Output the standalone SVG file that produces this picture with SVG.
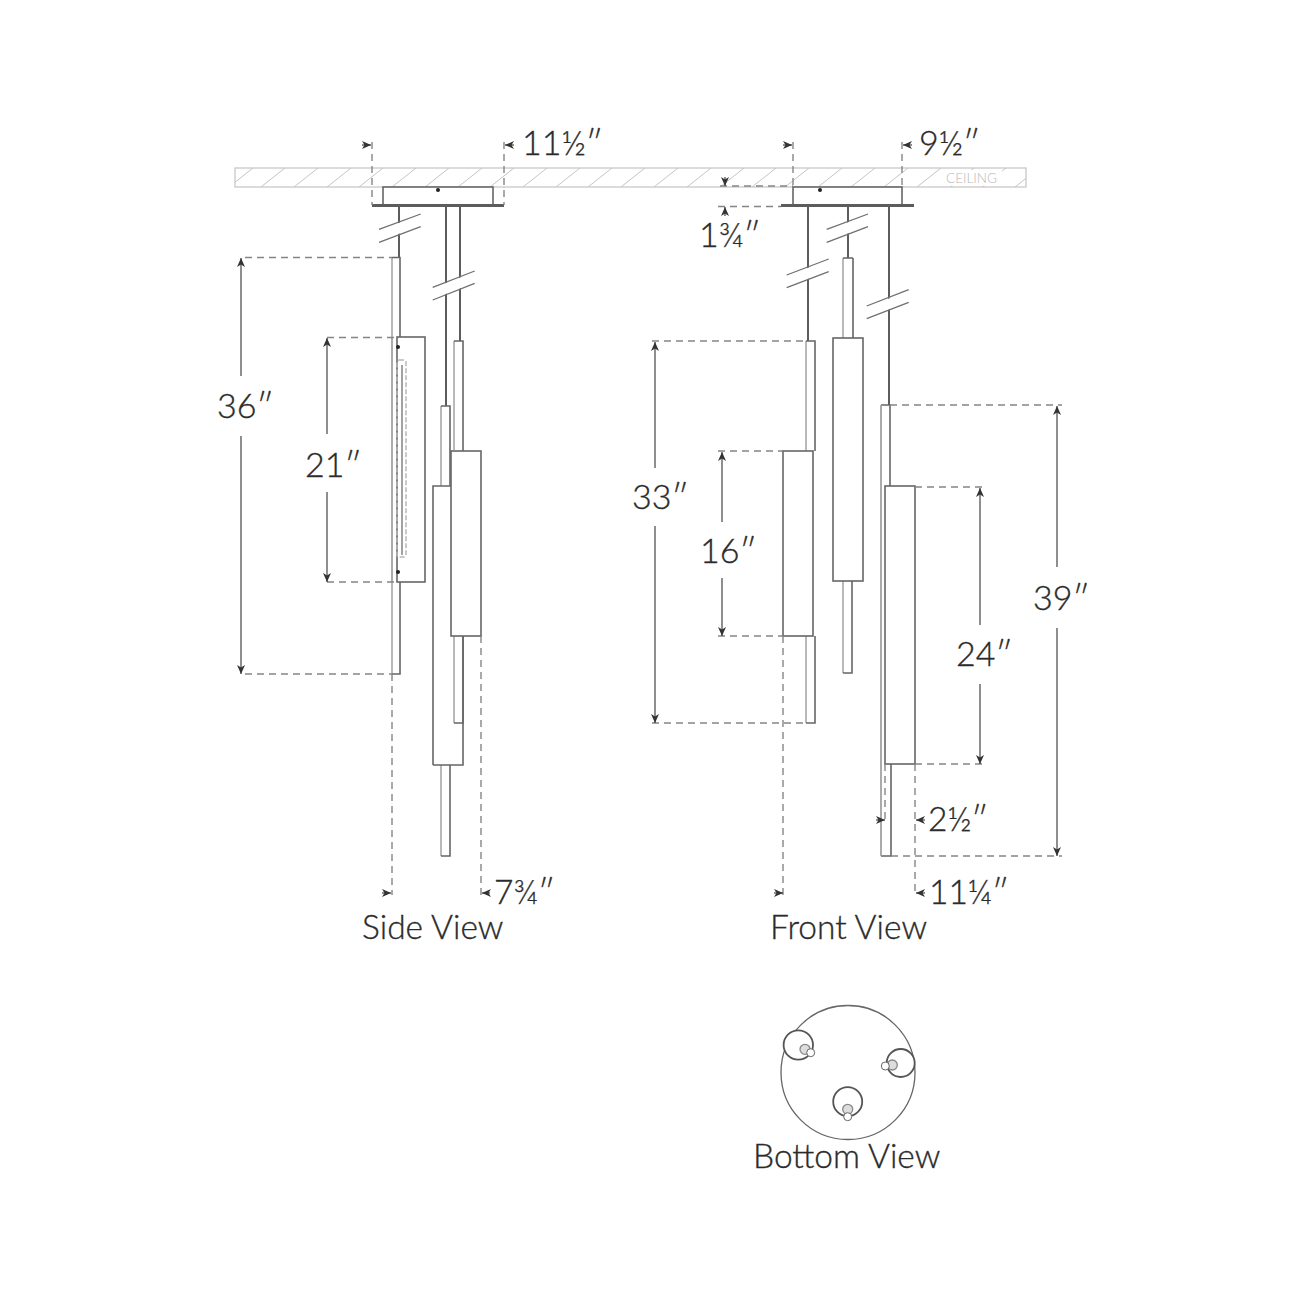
<svg xmlns="http://www.w3.org/2000/svg" width="1300" height="1300" viewBox="0 0 1300 1300">
<style>
.o{fill:none;stroke:#666;stroke-width:1.6}
.w{fill:#fff;stroke:#666;stroke-width:1.6}
.r{fill:none;stroke:#5c5c5c;stroke-width:2}
.lt{fill:none;stroke:#a8a8a8;stroke-width:1.6}
.d{fill:none;stroke:#858585;stroke-width:1.4;stroke-dasharray:7 5}
.m{fill:none;stroke:#444;stroke-width:1.2;marker-end:url(#ah)}
.b{fill:none;stroke:#707070;stroke-width:1.3}
.c{fill:none;stroke:#c8c8c8;stroke-width:1.3}
.h{fill:none;stroke:#c4c4c4;stroke-width:1}
.p{fill:none;stroke:#5c5c5c;stroke-width:3}
text{font-family:"Lato","Liberation Sans",sans-serif;font-weight:300;fill:#2b2b2b;stroke:#2b2b2b;stroke-width:.35}
.t{font-size:34px}
.s{font-size:33.500px}
.v{font-size:33.500px}
.ce{font-size:13.500px;fill:#b8b8b8;stroke:none}
</style>
<defs>
<marker id="ah" markerUnits="userSpaceOnUse" markerWidth="10" markerHeight="8" refX="9" refY="4" orient="auto-start-reverse"><path d="M0 0L9 4L0 8L2.500 4Z" fill="#333"/></marker>
<clipPath id="cc"><rect x="235" y="168" width="791" height="19"/></clipPath>
</defs>
<g id="ceiling">
<rect class="c" x="235" y="168" width="791" height="19"/>
<g clip-path="url(#cc)"><path class="h" d="M229 187l24-19M261 187l24-19M294 187l24-19M327 187l24-19M359 187l24-19M392 187l24-19M425 187l24-19M458 187l24-19M490 187l24-19M523 187l24-19M556 187l24-19M588 187l24-19M621 187l24-19M654 187l24-19M687 187l24-19M720 187l24-19M752 187l24-19M785 187l24-19M818 187l24-19M851 187l24-19M884 187l24-19M917 187l24-19M950 187l24-19M982 187l24-19M1015 187l24-19"/></g>
<rect x="945" y="170" width="57" height="15.500" fill="#fff"/>
<text class="ce" x="946" y="182.500">CEILING</text>
</g>
<g id="side-view">
<rect class="w" x="383" y="187" width="110" height="18"/>
<circle cx="438" cy="190" r="2" fill="#222"/>
<path class="p" d="M372 205.500H504"/>
<path class="r" d="M399 206V258M446 206V406M460 206V341"/>
<path class="lt" d="M392 258V674"/>
<path class="o" d="M392 257.500H400V674H392"/>
<path class="lt" d="M441 406V486M454 341V450M454 636V723M441 765V856"/>
<path class="o" d="M441 406H450V486M454 341H463V451M463 636V723H454M441 856H450V765"/>
<rect class="w" x="397" y="337" width="28" height="245"/>
<path class="lt" d="M392 337V582"/>
<circle cx="398" cy="347" r="2" fill="#222"/>
<circle cx="398" cy="572" r="2" fill="#222"/>
<rect x="397" y="360" width="9" height="197" rx="2" fill="none" stroke="#b8b8b8" stroke-width="1.500" stroke-dasharray="5 2"/>
<path class="b" d="M402 365V555"/>
<path class="o" d="M433 765V486H451M463 636V765H433"/>
<rect class="w" x="451" y="451" width="30" height="185"/>
<path fill="#fff" d="M379 230L420.700 215L420.700 226L379 241Z"/>
<path fill="#fff" d="M432.700 288L474.700 272L474.700 283L432.700 299Z"/>
<path class="b" d="M379 229.300L420.700 214M379 242.300L420.700 226.700M432.700 287.300L474.700 271M432.700 300L474.700 283.300"/>
<path class="d" d="M372 142V205M504 142V205M392 674V895M481 636V895M245 257.500H392M245 674H392M327 337.500H396M327 582H396"/>
<path class="m" d="M362 145H371"/><path class="m" d="M514 145H505"/>
<path class="m" d="M382 893H391"/><path class="m" d="M490 893H482"/>
<path class="m" d="M241 376V258"/><path class="m" d="M241 436V674"/>
<path class="m" d="M327 434V338"/><path class="m" d="M327 492V582"/>
<text class="t" x="522" y="155">11½″</text>
<text class="t" x="217" y="418">36″</text>
<text class="t" x="305" y="477">21″</text>
<text class="s" x="494" y="904">7¾″</text>
<text class="v" x="362" y="939">Side View</text>
</g>
<g id="front-view">
<rect class="w" x="793" y="187" width="109" height="18"/>
<circle cx="820" cy="190" r="2" fill="#222"/>
<path class="p" d="M781 205.500H914"/>
<path class="r" d="M808 206V341M848 206V258M889 206V405"/>
<path class="lt" d="M806 341V451M806 636V723M843 258V338M843 581V673M881 405V856"/>
<path class="o" d="M806 341H815V451M815 636V723H806M853 258V338M843 258H853M852 581V673H843M881 405H890V486M891 764V856H881"/>
<rect class="w" x="783" y="451" width="30" height="185"/>
<rect class="w" x="833" y="338" width="30" height="243"/>
<rect class="w" x="885" y="486" width="30" height="278"/>
<path class="lt" d="M881 405V856"/>
<path fill="#fff" d="M826.700 230L868 215L868 226L826.700 241.500Z"/>
<path fill="#fff" d="M786.700 276L828.700 260L828.700 271L786.700 287Z"/>
<path fill="#fff" d="M866.700 307L908.700 291L908.700 302L866.700 318Z"/>
<path class="b" d="M826.700 229.300L868 214M826.700 242.300L868 226.700M786.700 275L828.700 259M786.700 287.700L828.700 271.700M866.700 306L908.700 289.700M866.700 318.700L908.700 302.300"/>
<path class="d" d="M793 142V187M902 142V187M720 186H793M718 206.500H781M652 341H806M652 723H806M718 451H783M718 636H783M890 405H1062M915 487H984M915 764H984M891 856H1062M783 636V895M915 764V895M885 764V820"/>
<path class="m" d="M783 145H792"/><path class="m" d="M912 145H903"/>
<path class="m" d="M725 177V186"/><path class="m" d="M725 216V207"/>
<path class="m" d="M774 893H783"/><path class="m" d="M925 893H916"/>
<path class="m" d="M876 820H885"/><path class="m" d="M925 820H916"/>
<path class="m" d="M655 468V342"/><path class="m" d="M655 526V723"/>
<path class="m" d="M722 522V452"/><path class="m" d="M722 578V636"/>
<path class="m" d="M980 625V488"/><path class="m" d="M980 684V764"/>
<path class="m" d="M1057 567V406"/><path class="m" d="M1057 628V856"/>
<text class="t" x="919" y="155">9½″</text>
<text class="t" x="699" y="247">1¾″</text>
<text class="t" x="632" y="509">33″</text>
<text class="t" x="700" y="563">16″</text>
<text class="t" x="956" y="666">24″</text>
<text class="t" x="1033" y="610">39″</text>
<text class="s" x="928" y="831">2½″</text>
<text class="s" x="929" y="904">11¼″</text>
<text class="v" x="770" y="939">Front View</text>
</g>
<g id="bottom-view">
<circle cx="848" cy="1072.500" r="67" fill="#fff" stroke="#666" stroke-width="1.300"/>
<circle cx="798.300" cy="1045" r="14.700" fill="#fff" stroke="#555" stroke-width="1.800"/>
<circle cx="900.700" cy="1063" r="14" fill="#fff" stroke="#555" stroke-width="1.800"/>
<circle cx="847.700" cy="1101.700" r="14.500" fill="#fff" stroke="#555" stroke-width="1.800"/>
<circle cx="805" cy="1049.300" r="5" fill="#ddd" stroke="#888" stroke-width="1.300"/>
<circle cx="892.300" cy="1065" r="5" fill="#ddd" stroke="#888" stroke-width="1.300"/>
<circle cx="847.700" cy="1109.300" r="5" fill="#ddd" stroke="#888" stroke-width="1.300"/>
<circle cx="810.700" cy="1052.700" r="4" fill="#fff" stroke="#666"/>
<circle cx="885.300" cy="1066" r="4" fill="#fff" stroke="#666"/>
<circle cx="847.700" cy="1116.700" r="4" fill="#fff" stroke="#666"/>
<text class="v" x="753" y="1168">Bottom View</text>
</g>
</svg>
